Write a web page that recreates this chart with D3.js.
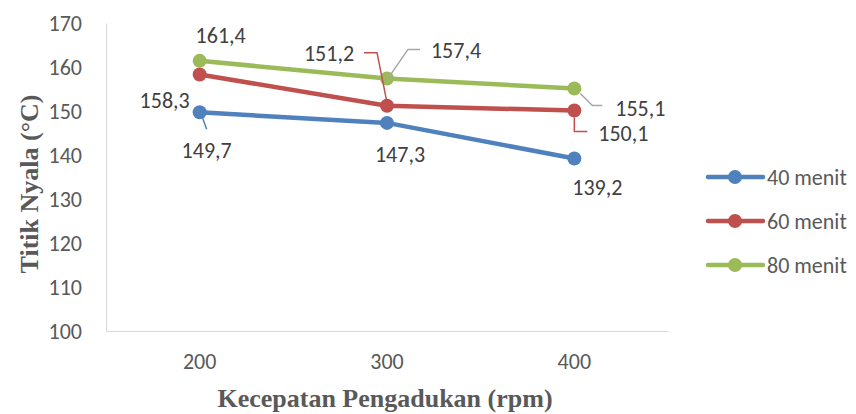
<!DOCTYPE html>
<html>
<head>
<meta charset="utf-8">
<script src="https://cdn.jsdelivr.net/npm/d3@7"></script>
<style>
  html, body { margin: 0; padding: 0; background: #fff; }
  svg { display: block; }
</style>
</head>
<body>
<svg id="chart" width="856" height="414"></svg>
<script>
// Flash point versus stirring speed for three stirring durations
const categories = ["200", "300", "400"];
const seriesNames = ["40 menit", "60 menit", "80 menit"];
const values40 = [149.7, 147.3, 139.2];
const values60 = [158.3, 151.2, 150.1];
const values80 = [161.4, 157.4, 155.1];
const yTicks = [100, 110, 120, 130, 140, 150, 160, 170];
const colors = ["#4F81BD", "#C0504D", "#9BBB59"];

// Label placement per series/point: text offset (dx, dy) and optional leader polyline offsets
const labelLayout = [
  [ {dx: 7, dy: 38, leader: [[3, 6], [7, 17]]}, {dx: 13, dy: 32}, {dx: 23, dy: 29} ],
  [ {dx: -35, dy: 26}, {dx: -58, dy: -52, leader: [[0, -3], [-10, -53], [-23, -53]]},
    {dx: 49, dy: 23, leader: [[0, 7], [0, 21], [13, 21]]} ],
  [ {dx: 21, dy: -25}, {dx: 69, dy: -28, leader: [[1, 0], [21, -29], [33, -29]]},
    {dx: 66, dy: 20, leader: [[6, 5], [18, 17], [28, 17]]} ]
];

const svg = d3.select("#chart");
const margin = {left: 106, right: 188, top: 23, bottom: 83};
const W = 856, H = 414;

const x = d3.scaleBand().domain(categories).range([margin.left, W - margin.right]);
const y = d3.scaleLinear().domain([100, 170]).range([H - margin.bottom, margin.top]);
const cx = c => x(c) + x.bandwidth() / 2;

const labelFont = "'Carlito', 'Lato', 'Open Sans', sans-serif";
const labelSize = 22;

// Axes
const yAxis = d3.axisLeft(y).tickValues(yTicks).tickSize(0).tickPadding(24);
const gy = svg.append("g").attr("transform", `translate(${margin.left},0)`).call(yAxis);
gy.select(".domain").attr("stroke", "#d9d9d9").attr("stroke-width", 1);
gy.selectAll("text").attr("font-family", labelFont).attr("font-size", labelSize).attr("fill", "#595959");

const xAxis = d3.axisBottom(x).tickSize(0).tickPadding(22);
const gx = svg.append("g").attr("transform", `translate(0,${H - margin.bottom})`).call(xAxis);
gx.select(".domain").attr("stroke", "#d9d9d9").attr("stroke-width", 1);
gx.selectAll("text").attr("font-family", labelFont).attr("font-size", labelSize).attr("fill", "#595959");

// Axis titles
svg.append("text")
  .attr("x", (margin.left + W - margin.right) / 2 - 2)
  .attr("y", 407)
  .attr("text-anchor", "middle")
  .attr("font-family", "'Liberation Serif', 'Times New Roman', serif")
  .attr("font-weight", "bold").attr("font-size", 26).attr("fill", "#595959")
  .text("Kecepatan Pengadukan (rpm)");

svg.append("text")
  .attr("transform", `translate(38,${(margin.top + H - margin.bottom) / 2 + 7}) rotate(-90)`)
  .attr("text-anchor", "middle")
  .attr("font-family", "'Liberation Serif', 'Times New Roman', serif")
  .attr("font-weight", "bold").attr("font-size", 26).attr("fill", "#595959")
  .text("Titik Nyala (°C)");

// Series lines and markers
const allSeries = [values40, values60, values80];
const line = d3.line().x((d, i) => cx(categories[i])).y(d => y(d));

allSeries.forEach((vals, s) => {
  svg.append("path").datum(vals)
    .attr("d", line).attr("fill", "none")
    .attr("stroke", colors[s]).attr("stroke-width", 4.5)
    .attr("stroke-linejoin", "round").attr("stroke-linecap", "round");
  svg.selectAll(null).data(vals).enter().append("circle")
    .attr("cx", (d, i) => cx(categories[i])).attr("cy", d => y(d))
    .attr("r", 7).attr("fill", colors[s]);
});

// Data labels with leader lines
allSeries.forEach((vals, s) => {
  vals.forEach((v, i) => {
    const px = cx(categories[i]), py = y(v);
    const lay = labelLayout[s][i];
    if (lay.leader) {
      svg.append("polyline")
        .attr("points", lay.leader.map(p => [px + p[0], py + p[1]].join(",")).join(" "))
        .attr("fill", "none")
        .attr("stroke", s === 2 ? "#a6a6a6" : colors[s])
        .attr("stroke-width", 1.5);
    }
    svg.append("text")
      .attr("x", px + lay.dx).attr("y", py + lay.dy)
      .attr("text-anchor", "middle").attr("dominant-baseline", "central")
      .attr("font-family", labelFont).attr("font-size", labelSize).attr("fill", "#404040")
      .text(String(v).replace(".", ","));
  });
});

// Legend
const legend = svg.append("g");
seriesNames.forEach((name, s) => {
  const ly = 177 + s * 44;
  legend.append("line")
    .attr("x1", 708).attr("x2", 763).attr("y1", ly).attr("y2", ly)
    .attr("stroke", colors[s]).attr("stroke-width", 4.5).attr("stroke-linecap", "round");
  legend.append("circle").attr("cx", 735).attr("cy", ly).attr("r", 7).attr("fill", colors[s]);
  legend.append("text")
    .attr("x", 767).attr("y", ly).attr("dominant-baseline", "central")
    .attr("font-family", labelFont).attr("font-size", labelSize).attr("fill", "#595959")
    .text(name);
});
</script>
</body>
</html>
